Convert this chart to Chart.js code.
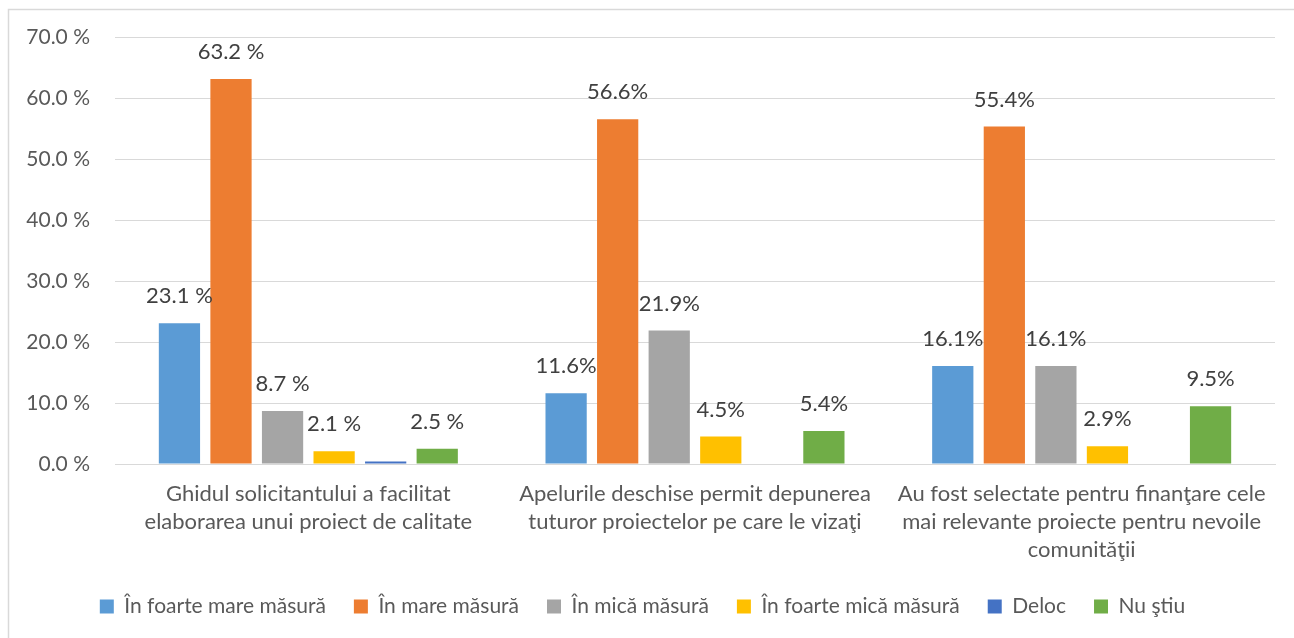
<!DOCTYPE html>
<html>
<head>
	<meta charset="UTF-8">
	<title>Evaluare</title>
	<script src="https://cdn.jsdelivr.net/npm/chart.js"></script>
	<style>
		body {
			margin: 0;
			background: #ffffff;
		}
		#wrap {
			width: 1294px;
			height: 638px;
			position: relative;
		}
	</style>
</head>
<body>
	<div id="wrap">
		<canvas id="myChart" width="1294" height="638"></canvas>
	</div>
	<script>
		// categories (multi-line labels)
		const categories = [
			["Ghidul solicitantului a facilitat", "elaborarea unui proiect de calitate"],
			["Apelurile deschise permit depunerea", "tuturor proiectelor pe care le vizaţi"],
			["Au fost selectate pentru finanţare cele", "mai relevante proiecte pentru nevoile", "comunităţii"]
		];

		const seriesNames = ["În foarte mare măsură", "În mare măsură", "În mică măsură", "În foarte mică măsură", "Deloc", "Nu ştiu"];

		const foarteMare = [23.1, 11.6, 16.1];
		const mare = [63.2, 56.6, 55.4];
		const mica = [8.7, 21.9, 16.1];
		const foarteMica = [2.1, 4.5, 2.9];
		const deloc = [0.4, 0, 0];
		const nuStiu = [2.5, 5.4, 9.5];

		// the first group was labelled with a space before the percent sign
		const labelSuffix = [" %", "%", "%"];

		const yTicks = [0, 10, 20, 30, 40, 50, 60, 70];

		const colors = ["#5B9BD5", "#ED7D31", "#A5A5A5", "#FFC000", "#4472C4", "#70AD47"];
		const textColor = "#595959";
		const fontFamily = "Lato, 'Open Sans', sans-serif";

		const allSeries = [foarteMare, mare, mica, foarteMica, deloc, nuStiu];

		// white background + frame
		const framePlugin = {
			id: 'frame',
			beforeDraw: (chart) => {
				const {ctx} = chart;
				ctx.save();
				ctx.fillStyle = '#ffffff';
				ctx.fillRect(0, 0, chart.width, chart.height);
				ctx.strokeStyle = '#d9d9d9';
				ctx.lineWidth = 1.5;
				ctx.strokeRect(8.5, 9.5, chart.width + 20, chart.height + 20);
				ctx.restore();
			}
		};

		// value labels above bars (no datalabels plugin available)
		const valueLabels = {
			id: 'valueLabels',
			afterDatasetsDraw: (chart) => {
				const {ctx} = chart;
				ctx.save();
				ctx.font = "22px " + fontFamily;
				ctx.fillStyle = "#404040";
				ctx.textAlign = 'center';
				ctx.textBaseline = 'middle';
				chart.data.datasets.forEach((ds, di) => {
					if (di === 4) return; // Deloc not labelled
					const meta = chart.getDatasetMeta(di);
					meta.data.forEach((bar, i) => {
						const v = ds.data[i];
						if (!v) return;
						ctx.fillText(v.toFixed(1) + labelSuffix[i], bar.x, bar.y - 27);
					});
				});
				ctx.restore();
			}
		};

		const ctx = document.getElementById('myChart').getContext('2d');
		const chart = new Chart(ctx, {
			type: 'bar',
			data: {
				labels: categories,
				datasets: seriesNames.map((name, i) => ({
					label: name,
					data: allSeries[i],
					backgroundColor: colors[i],
					borderWidth: 0,
					categoryPercentage: 0.8,
					barPercentage: 0.8
				}))
			},
			options: {
				responsive: false,
				animation: false,
				layout: {
					padding: { left: 10, right: 19, top: 30, bottom: 11 }
				},
				scales: {
					x: {
						grid: { display: false, drawTicks: false },
						border: { color: '#d9d9d9', width: 1 },
						ticks: {
							color: textColor,
							padding: 16,
							maxRotation: 0,
							autoSkip: false,
							font: { family: fontFamily, size: 22, lineHeight: 1.28 }
						},
						afterFit: (scale) => { scale.height = 104; }
					},
					y: {
						min: 0,
						max: 70,
						afterBuildTicks: (scale) => { scale.ticks = yTicks.map(v => ({ value: v })); },
						grid: { color: '#d9d9d9', drawTicks: false, lineWidth: 1 },
						border: { display: false },
						ticks: {
							color: textColor,
							padding: 25,
							font: { family: fontFamily, size: 21 },
							callback: (v) => v.toFixed(1) + ' %'
						},
						afterFit: (scale) => { scale.width = 105; }
					}
				},
				plugins: {
					legend: {
						position: 'bottom',
						labels: {
							color: textColor,
							boxWidth: 14,
							boxHeight: 14,
							padding: 28,
							font: { family: fontFamily, size: 21 }
						}
					},
					tooltip: { enabled: false }
				}
			},
			plugins: [framePlugin, valueLabels]
		});
	</script>
</body>
</html>
